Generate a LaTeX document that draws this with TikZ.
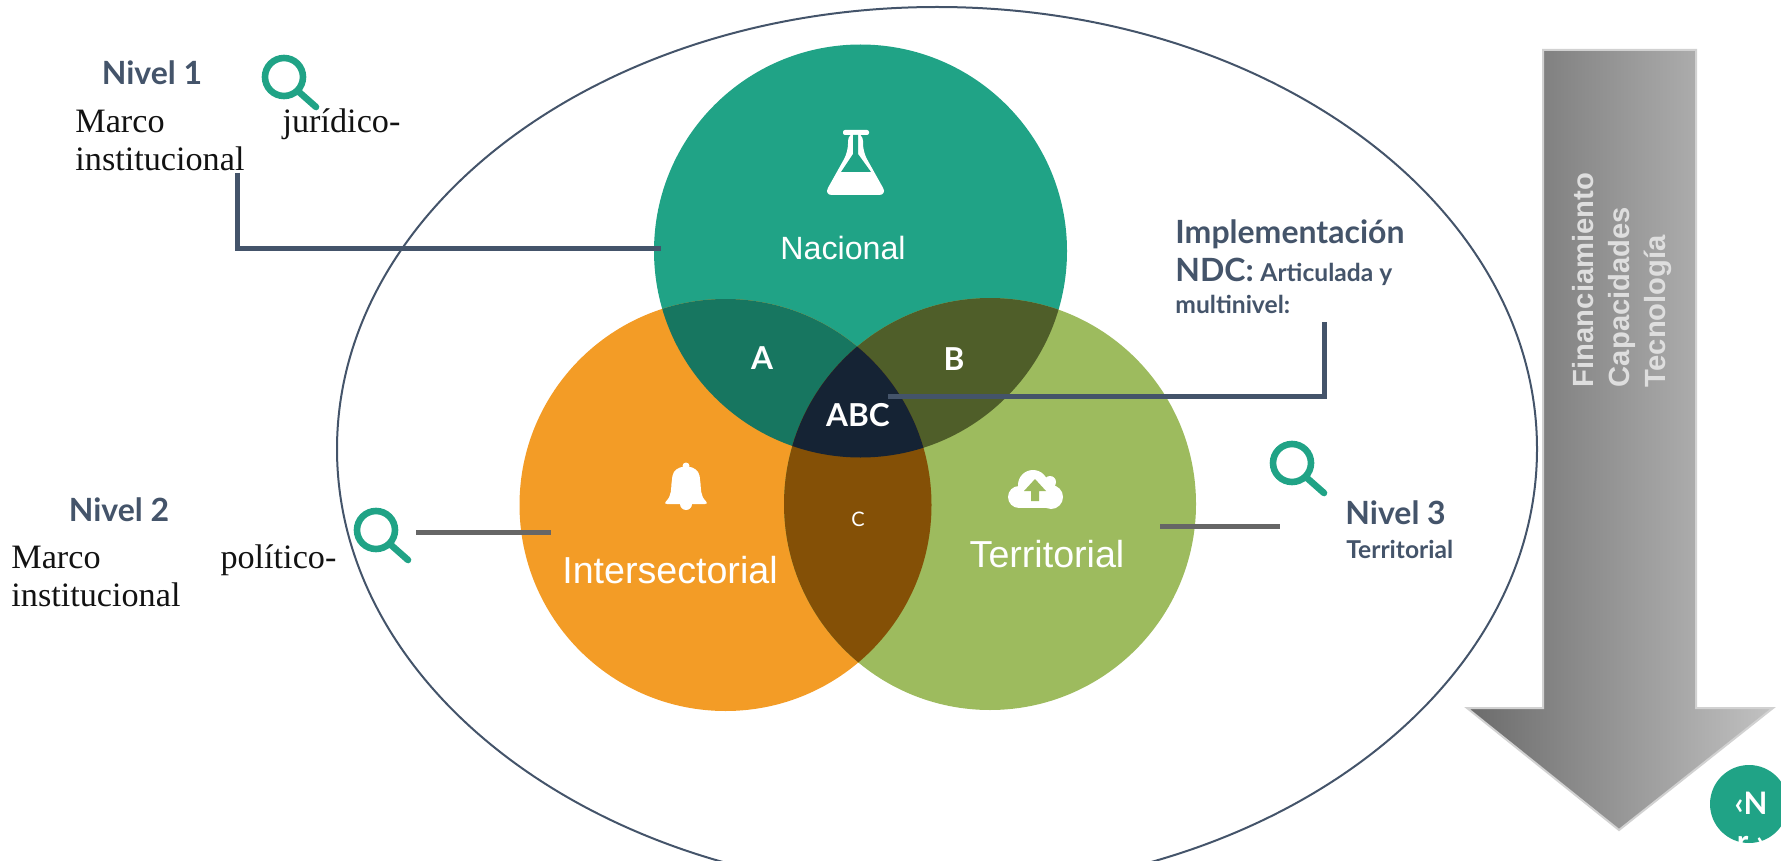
\documentclass[tikz,border=0pt]{standalone}
\usepackage{fontspec}
\setmainfont{Liberation Serif}
\setsansfont{Liberation Sans}
\newfontfamily\lato{Lato}
\usetikzlibrary{positioning, shapes.geometric}
\definecolor{verde}{HTML}{20A386}
\definecolor{naranja}{HTML}{F39C26}
\definecolor{oliva}{HTML}{9DBB5E}
\definecolor{pizarra}{HTML}{44546A}
\definecolor{verdeA}{HTML}{177660}
\definecolor{olivaB}{HTML}{4F5E29}
\definecolor{cafeC}{HTML}{845006}
\definecolor{noche}{HTML}{152334}
\newcommand{\circN}{(860.5,251) circle [radius=206.5]}
\newcommand{\circI}{(725.5,505) circle [radius=206]}
\newcommand{\circT}{(990,504) circle [radius=206]}
\begin{document}
\begin{tikzpicture}[x=0.5pt, y=-0.5pt,
	main node/.style={circle, minimum size=206pt, inner sep=0pt},
	circle label/.style={text=white, font=\sffamily\fontsize{18.8}{20}\selectfont},
	zone label/.style={text=white, font=\lato\bfseries\fontsize{15.8}{18}\selectfont},
	nivel/.style={text=pizarra, font=\lato\bfseries\fontsize{16}{18}\selectfont},
	detalle/.style={text=pizarra, font=\lato\bfseries\fontsize{12.3}{14}\selectfont},
	marco/.style={text=black!93, text width=162.5pt, align=justify, inner sep=0pt, font=\fontsize{17.1}{19.2}\selectfont},
	nivel line/.style={draw=pizarra, line width=2.5pt},
	gris line/.style={draw=black!60, line width=2.5pt},
	lupa/.style={draw=verde, line width=3.3pt, line cap=round}]
	\useasboundingbox (0,0) rectangle (1781,861);
	\clip (0,0) rectangle (1781,861);

	% outer ellipse
	\node[ellipse, draw=pizarra, line width=1pt, inner sep=0pt, minimum width=600pt, minimum height=442pt] (borde) at (937,449) {};

	% circles
	\node[main node, fill=verde, minimum size=206.5pt] (nacional) at (860.5,251) {};
	\node[main node, fill=naranja] (intersectorial) at (725.5,505) {};
	\node[main node, fill=oliva] (territorial) at (990,504) {};

	% overlaps
	\begin{scope}
		\clip \circN;
		\fill[verdeA] \circI;
	\end{scope}
	\begin{scope}
		\clip \circN;
		\fill[olivaB] \circT;
	\end{scope}
	\begin{scope}
		\clip \circI;
		\fill[cafeC] \circT;
	\end{scope}
	\begin{scope}
		\clip \circN;
		\clip \circI;
		\fill[noche] \circT;
	\end{scope}

	% labels in the circles
	\node[circle label, font=\sffamily\fontsize{16.1}{18}\selectfont] (lblN) at (843,248) {Nacional};
	\node[circle label] (lblI) at (670,570) {Intersectorial};
	\node[circle label] (lblT) at (1047,554) {Territorial};
	\node[zone label] (A) at (762,358) {A};
	\node[zone label] (B) at (954,359) {B};
	\node[zone label] (ABC) at (858,415) {ABC};
	\node[text=white, font=\lato\fontsize{10}{12}\selectfont] (C) at (858,519) {C};

	% flask
	\fill[white, rounded corners=1pt] (843,130) rectangle (869,135);
	\fill[white, rounded corners=4pt] (848,133) -- (863,133) -- (863,152) -- (887,195) -- (824,195) -- (848,152) -- cycle;
	\fill[verde] (853,135) -- (858,135) -- (858,154) -- (871,172) -- (841,172) -- (853,154) -- cycle;
	% bell
	\fill[white] (686,466) circle [radius=3.5];
	\fill[white, rounded corners=2pt] (663,504) .. controls (672,496) and (671,487) .. (672,480) .. controls (673,470) and (680,467) .. (686,467) .. controls (692,467) and (699,470) .. (700,480) .. controls (701,487) and (700,496) .. (709,504) -- cycle;
	\fill[white] (686,504) circle [radius=6];
	% cloud
	\fill[white] (1019,497) circle [radius=11] (1033,485) circle [radius=15] (1050,482) circle [radius=6] (1051,497) circle [radius=12];
	\fill[white] (1019,492) rectangle (1051,508);
	\fill[oliva] (1035,479) -- (1024,491) -- (1031,491) -- (1031,501) -- (1039,501) -- (1039,491) -- (1046,491) -- cycle;

	% magnifiers
	\foreach \px/\py in {284/77, 376/530, 1292/463} {
		\draw[lupa] (\px,\py) circle [radius=19];
		\draw[lupa] (\px+15,\py+15) -- (\px+32,\py+30);
	}

	% level texts
	\node[nivel] (nivel1) at (152,73) {Nivel 1};
	\node[marco, anchor=north west] (marco1) at (75,108) {Marco\hfill jurídico-\\institucional};
	\node[nivel] (nivel2) at (119,510) {Nivel 2};
	\node[marco, anchor=north west] (marco2) at (11,544) {Marco\hfill político-\\institucional};
	\node[nivel, anchor=west, inner sep=0pt] (nivel3) at (1345,513) {Nivel 3};
	\node[detalle, anchor=west, inner sep=0pt] (terr) at (1346,549) {Territorial};
	\node[nivel, anchor=base west, inner sep=0pt] (impl) at (1175,243) {Implementación};
	\node[nivel, anchor=base west, inner sep=0pt] (ndc) at (1175,281) {NDC:};
	\node[detalle, anchor=base west, inner sep=0pt] (articulada) at (1260,281) {Articulada y};
	\node[detalle, anchor=base west, inner sep=0pt] (multi) at (1175,313) {multinivel:};

	% connectors
	\coordinate (c1a) at (237,173);
	\coordinate (c1b) at (661,248);
	\coordinate (c2a) at (416,532);
	\coordinate (c2b) at (551,532);
	\coordinate (c3a) at (1160,526);
	\coordinate (c3b) at (1280,526);
	\coordinate (c4a) at (888,396);
	\coordinate (c4b) at (1324,322);
	\draw[nivel line] (c1a) |- (c1b);
	\draw[gris line] (c2a) -- (c2b);
	\draw[gris line] (c3a) -- (c3b);
	\draw[nivel line] (c4a) -| (c4b);

	% arrow
	\shade[left color=black!58, right color=black!24, draw=black!18, line width=1pt] (1543,50) -- (1696,50) -- (1696,708) -- (1773,708) -- (1619,830) -- (1467,708) -- (1543,708) -- cycle;
	\node[rotate=90, text=black!13, align=left, font=\sffamily\bfseries\fontsize{14.6}{18}\selectfont] (recursos) at (1622,280) {Financiamiento\\Capacidades\\Tecnología};

	% page number
	\node[main node, fill=verde, minimum size=39pt] (pagina) at (1749,804) {};
	\node[text=white, align=center, font=\lato\bfseries\fontsize{15.5}{19}\selectfont] (numero) at (1751,822) {‹N\\r ›};
\end{tikzpicture}
\end{document}
